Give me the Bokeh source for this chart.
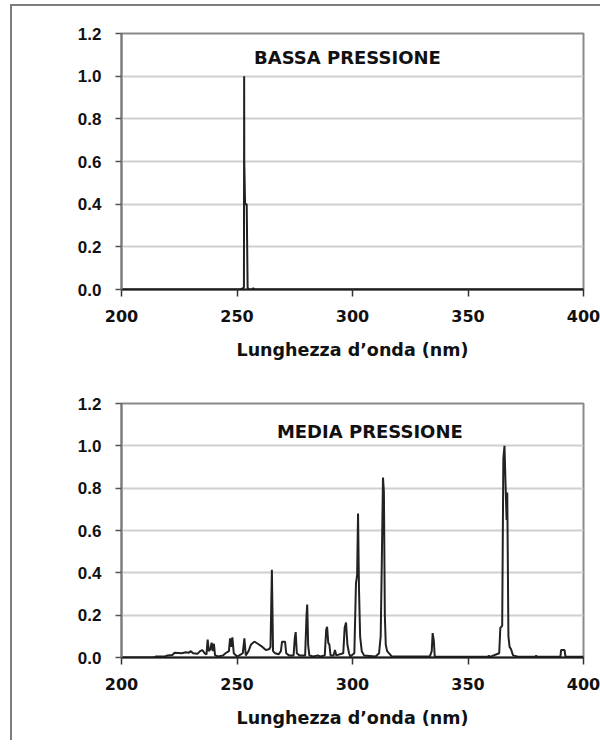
from bokeh.plotting import figure
from bokeh.layouts import column
from bokeh.models import Range1d, FixedTicker, PrintfTickFormatter, Label
from bokeh.embed import file_html
from bokeh.resources import INLINE

# ---------------- data ----------------
X_TICKS = [200, 250, 300, 350, 400]
Y_TICKS = [0.0, 0.2, 0.4, 0.6, 0.8, 1.0, 1.2]
X_TITLE = "Lunghezza d\u2019onda (nm)"
TITLE_LOW = "BASSA PRESSIONE"
TITLE_MED = "MEDIA PRESSIONE"

# low-pressure lamp (254 nm line)
lp_nm = [200, 251.5, 252.6, 253.0, 253.1, 253.15, 253.5, 254.2, 254.6, 255.0,
         256.5, 257.0, 257.5, 400]
lp_val = [0.0, 0.0, 0.006, 0.01, 1.0, 0.6, 0.4, 0.4, 0.01, 0.0,
          0.0, 0.006, 0.0, 0.0]

# medium-pressure lamp
mp_nm = [200, 214, 215, 219, 220, 222, 223, 226, 228, 229, 230, 231, 233, 234,
         235, 236, 236.8, 237.3, 237.8, 238.5, 239, 239.5, 240, 240.5, 242, 244,
         245, 246.5, 247, 247.5, 248, 248.6, 250, 251, 252.5, 253.2, 253.8, 255,
         256, 257.5, 259, 261, 262.5, 264, 264.5, 265.1, 265.6, 266.5, 268, 269,
         269.5, 270.8, 271.3, 272.5, 274.5, 275, 275.4, 275.9, 277, 279.5, 280.1,
         280.4, 280.8, 281.3, 283, 285, 286, 288, 288.6, 289, 289.5, 290, 290.5,
         291.8, 292.4, 293, 296, 296.6, 297.2, 297.8, 298.5, 299, 300.8, 301.5,
         302, 302.4, 302.8, 303.3, 304, 305, 310, 311.5, 312.2, 312.7, 313.2,
         313.6, 314, 314.4, 315, 317, 333.5, 334.3, 334.7, 335.2, 335.6, 348,
         358.5, 359, 359.5, 363.5, 364, 364.8, 365.3, 365.8, 366.2, 366.7, 367,
         367.5, 368, 368.6, 369.5, 372, 379, 379.5, 380, 390, 390.3, 391.8,
         392.2, 400]
mp_val = [0.0, 0.0, 0.005, 0.006, 0.01, 0.012, 0.022, 0.02, 0.025, 0.022, 0.03,
          0.02, 0.018, 0.03, 0.035, 0.02, 0.015, 0.085, 0.03, 0.04, 0.07, 0.03,
          0.065, 0.01, 0.005, 0.01, 0.02, 0.03, 0.09, 0.05, 0.095, 0.02, 0.005,
          0.01, 0.02, 0.09, 0.01, 0.03, 0.06, 0.075, 0.065, 0.05, 0.035, 0.04,
          0.05, 0.415, 0.03, 0.02, 0.015, 0.03, 0.075, 0.075, 0.02, 0.01, 0.01,
          0.09, 0.12, 0.02, 0.01, 0.01, 0.2, 0.25, 0.06, 0.01, 0.005, 0.01,
          0.005, 0.01, 0.13, 0.145, 0.07, 0.06, 0.01, 0.01, 0.035, 0.01, 0.02,
          0.14, 0.165, 0.06, 0.02, 0.005, 0.02, 0.35, 0.39, 0.68, 0.33, 0.1,
          0.03, 0.01, 0.005, 0.02, 0.1, 0.46, 0.85, 0.78, 0.2, 0.06, 0.03,
          0.005, 0.005, 0.03, 0.115, 0.08, 0.005, 0.003, 0.003, 0.008, 0.003,
          0.02, 0.14, 0.15, 0.94, 1.0, 0.84, 0.65, 0.78, 0.1, 0.05, 0.04, 0.01,
          0.003, 0.003, 0.008, 0.003, 0.003, 0.035, 0.035, 0.003, 0.003]

# ---------------- styling ----------------
TICK_FONT_Y = "Liberation Sans"
TEXT_FONT = "DejaVu Sans"
GRID = "#cfcfcf"
FRAME = "#8a8a8a"
LINE = "#222222"


def make_panel(nm, val, title, title_x, title_y, height, top, bottom):
    p = figure(width=588, height=height,
               x_range=Range1d(200, 400), y_range=Range1d(0, 1.2),
               output_backend="svg", toolbar_location=None,
               min_border_left=109, min_border_right=17,
               min_border_top=top, min_border_bottom=bottom)
    p.background_fill_color = "white"
    p.border_fill_color = "white"
    p.outline_line_color = FRAME
    p.outline_line_width = 2

    p.xgrid.grid_line_color = None
    p.ygrid.grid_line_color = GRID
    p.ygrid.grid_line_width = 2
    p.ygrid.ticker = FixedTicker(ticks=Y_TICKS)

    xa = p.xaxis[0]
    xa.ticker = FixedTicker(ticks=X_TICKS)
    xa.axis_line_color = "#1a1a1a"
    xa.axis_line_width = 2
    xa.major_tick_line_color = "#333333"
    xa.major_tick_line_width = 1.5
    xa.major_tick_out = 7
    xa.major_tick_in = 0
    xa.minor_tick_line_color = None
    xa.major_label_text_font = TEXT_FONT
    xa.major_label_text_font_style = "bold"
    xa.major_label_text_font_size = "16px"
    xa.major_label_text_color = "#111111"
    xa.major_label_standoff = 13
    xa.axis_label = X_TITLE
    xa.axis_label_text_font = TEXT_FONT
    xa.axis_label_text_font_style = "bold"
    xa.axis_label_text_font_size = "17.5px"
    xa.axis_label_text_color = "#111111"
    xa.axis_label_standoff = 15

    ya = p.yaxis[0]
    ya.ticker = FixedTicker(ticks=Y_TICKS)
    ya.formatter = PrintfTickFormatter(format="%.1f")
    ya.axis_line_color = "#7a7a7a"
    ya.axis_line_width = 2
    ya.major_tick_line_color = "#555555"
    ya.major_tick_line_width = 1.5
    ya.major_tick_out = 6
    ya.major_tick_in = 0
    ya.minor_tick_line_color = None
    ya.major_label_text_font = TICK_FONT_Y
    ya.major_label_text_font_style = "bold"
    ya.major_label_text_font_size = "17px"
    ya.major_label_text_color = "#111111"
    ya.major_label_standoff = 14

    p.line(nm, val, line_color=LINE, line_width=2)

    p.add_layout(Label(x=title_x, y=title_y, text=title,
                       text_font=TEXT_FONT, text_font_style="bold",
                       text_font_size="18px", text_color="#111111",
                       text_align="center", text_baseline="middle"))
    return p


p1 = make_panel(lp_nm, lp_val, TITLE_LOW, 297.8, 1.087, 372, 27, 89)
p2 = make_panel(mp_nm, mp_val, TITLE_MED, 307.5, 1.069, 362, 25, 83)

page = column(p1, p2, spacing=0,
              styles={"border-top": "2px solid #7d7d7d",
                      "border-left": "2px solid #7d7d7d",
                      "margin-top": "4px", "margin-left": "10px"})

open("out.html", "w").write(file_html(page, INLINE))
